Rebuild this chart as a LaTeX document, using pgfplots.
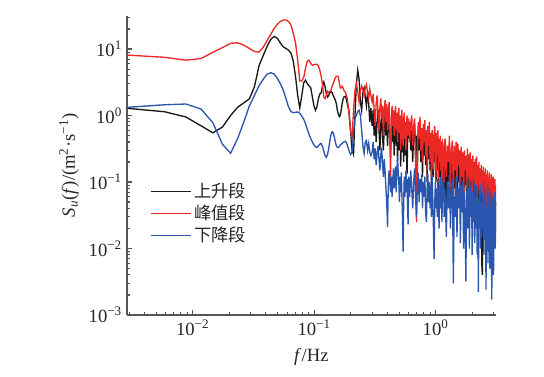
\documentclass[border=0pt]{standalone}
\usepackage{fontspec}
\setmainfont{Liberation Serif}
\newfontfamily\cjk{Noto Sans CJK SC}
\usepackage{pgfplots}
\usepackage{pgfplotstable}
\pgfplotsset{compat=1.18}
\definecolor{cred}{RGB}{236,40,36}
\definecolor{cblue}{RGB}{42,86,176}
\definecolor{cblack}{RGB}{25,25,25}
\definecolor{axgray}{RGB}{85,85,85}
\pgfplotstableread{
f a b c
0.00293 1.28 8.1 1.33
0.00586 1.14 7.5 1.45
0.00879 0.95 6.8 1.49
0.01172 0.70 7.2 1.25
0.01465 0.55 8.9 0.78
0.01758 0.67 10.5 0.37
0.02051 1.0 12.2 0.27
0.02344 1.33 12.4 0.45
0.02637 1.55 11.4 0.8
0.0293 1.78 10.2 1.4
0.03223 2.7 9.2 2.0
0.03516 5.6 9.0 2.8
0.03809 8.0 10.6 3.5
0.04102 11 13.5 4.2
0.04395 14 16.6 4.4
0.04688 15.5 20.5 4.2
0.04981 14.5 23.6 3.6
0.05274 12.3 26 3.0
0.05567 10.8 27.3 2.4
0.0586 10.2 27.3 1.8
0.06153 9.6 26 1.35
0.06446 8.7 23 1.15
0.06739 6.5 17.2 1.1
0.07032 3.8 12.3 1.12
0.07325 2.0 6.8 1.13
0.07618 1.3 3.3 1.08
0.07911 2.0 3.3 0.98
0.08204 3.1 3.7 0.88
0.08497 3.4 5.2 0.75
0.0879 3.0 6.6 0.62
0.09083 2.8 6.8 0.52
0.09376 2.6 6.1 0.45
0.09669 1.9 5.7 0.4
0.09962 1.4 5.8 0.36
0.10255 1.2 5.9 0.34
0.10548 1.35 5.9 0.33
0.10841 1.8 5.6 0.35
0.11134 2.1 4.8 0.37
0.11427 2.2 3.9 0.38
0.1172 2.8 2.9 0.34
0.12013 3.2 1.9 0.29
0.12306 2.7 1.8 0.25
0.12599 2.1 2.0 0.235
0.12892 1.9 2.3 0.26
0.13185 2.0 2.2 0.32
0.13478 2.2 2.3 0.42
0.13771 2.3 2.4 0.52
0.14064 2.2 2.75 0.57
0.14357 2.0 3.05 0.55
0.1465 1.85 3.4 0.48
0.14943 1.7 3.7 0.4
0.15236 1.5 3.9 0.35
0.15529 1.2 3.9 0.33
0.15822 1.05 3.8 0.33
0.16115 0.96 3.1 0.34
0.16408 1.0 2.6 0.36
0.16701 1.2 2.6 0.37
0.16994 1.5 2.75 0.38
0.17287 1.75 2.6 0.39
0.1758 1.9 2.4 0.40
0.18166 1.95 2.2 0.41
0.18752 1.5 1.8 0.36
0.19338 1.2 1.1 0.30
0.19924 0.6 0.6 0.26
0.2051 0.3 0.45 0.28
0.21096 0.26 1.2 0.55
0.21682 1.0 2.4 0.9
0.22268 3.0 3.0 1.0
0.22854 4.8 2.3 1.15
0.2344 3.5 1.6 1.2
0.24026 1.6 2.4 1.0
0.24612 1.2 2.8 0.6
0.25198 2.2 2.4 0.35
0.25784 2.6 2.0 0.27
0.2637 1.9 2.6 0.4
0.26956 1.4 2.9 0.42
0.27542 2.3 2.2 0.3
0.28128 1.5 1.8 0.38
0.28714 0.8 2.5 0.28
0.293 1.3 2.0 0.25
0.300 0.7 1.6 0.28
0.306 1.2 2.1 0.4
0.312 0.5 1.2 0.22
0.318 0.9 0.7 0.32
0.324 0.4 1.5 0.18
0.330 0.8 2.0 0.27
0.336 1.2 1.1 0.35
0.342 0.6 0.6 0.22
0.348 0.3 1.3 0.15
0.354 0.75 1.8 0.26
0.360 1.1 0.9 0.33
0.366 0.45 1.4 0.18
0.372 0.3 0.5 0.12
0.378 0.7 1.2 0.22
0.384 1.0 1.7 0.14
0.390 0.5 0.8 0.08
0.396 0.85 1.5 0.05
0.402 0.35 0.6 0.021
0.408 0.7 1.1 0.09
0.414 1.0 1.6 0.15
0.420 0.45 0.4 0.1
0.426 0.3 0.12 0.07
0.432 0.6 0.9 0.12
0.438 0.85 1.4 0.06
0.444 0.4 0.7 0.1
0.450 0.7 1.2 0.16
0.456 0.25 0.5 0.08
0.462 0.55 1.0 0.12
0.468 0.9 1.4 0.17
0.474 0.35 0.6 0.07
0.480 0.6 1.1 0.15
0.486 0.2 0.4 0.24
0.492 0.5 0.9 0.14
0.498 0.8 1.3 0.1
0.504 0.3 0.55 0.05
0.510 0.55 1.0 0.12
0.516 0.17 0.3 0.07
0.522 0.45 0.8 0.14
0.528 0.75 1.2 0.06
0.534 0.28 0.5 0.03
0.540 0.5 0.35 0.009
0.546 0.2 0.9 0.05
0.552 0.6 1.1 0.12
0.558 0.25 0.45 0.06
0.564 0.45 0.8 0.1
0.570 0.7 0.3 0.15
0.576 0.25 0.7 0.07
0.582 0.13 1.0 0.11
0.588 0.4 0.5 0.04
0.594 0.6 0.8 0.023
0.600 0.45 0.9 0.12
0.612 0.8 0.4 0.06
0.624 0.3 0.75 0.15
0.636 0.6 1.0 0.08
0.648 0.2 0.35 0.04
0.660 0.55 0.7 0.1
0.672 0.75 0.9 0.16
0.684 0.25 0.2 0.06
0.696 0.5 0.025 0.03
0.708 0.15 0.3 0.09
0.720 0.6 0.8 0.14
0.732 0.3 0.45 0.05
0.744 0.7 0.95 0.11
0.756 0.2 0.3 0.07
0.768 0.45 0.65 0.13
0.780 0.12 0.2 0.04
0.792 0.5 0.75 0.1
0.804 0.25 0.4 0.06
0.816 0.6 0.85 0.12
0.828 0.18 0.25 0.035
0.840 0.4 0.6 0.025
0.852 0.1 0.15 0.08
0.864 0.45 0.7 0.13
0.876 0.22 0.35 0.05
0.888 0.5 0.8 0.1
0.900 0.15 0.2 0.04
0.912 0.38 0.55 0.09
0.924 0.08 0.12 0.03
0.936 0.3 0.6 0.12
0.948 0.45 0.4 0.06
0.960 0.12 0.15 0.02
0.972 0.35 0.5 0.007
0.984 0.2 0.7 0.05
0.996 0.4 0.3 0.1
1.008 0.1 0.12 0.04
1.020 0.3 0.55 0.08
1.032 0.15 0.25 0.03
1.044 0.35 0.6 0.11
1.056 0.07 0.1 0.05
1.068 0.28 0.45 0.02
1.080 0.12 0.2 0.07
1.092 0.32 0.5 0.12
1.104 0.09 0.15 0.04
1.116 0.25 0.4 0.09
1.128 0.06 0.08 0.025
1.140 0.22 0.45 0.1
1.152 0.1 0.18 0.05
1.164 0.3 0.35 0.13
1.176 0.05 0.1 0.03
1.188 0.2 0.4 0.08
1.200 0.15 0.45 0.06
1.225 0.04 0.12 0.015
1.250 0.25 0.35 0.1
1.275 0.1 0.2 0.04
1.300 0.3 0.5 0.13
1.325 0.06 0.08 0.02
1.350 0.2 0.3 0.07
1.375 0.12 0.42 0.11
1.400 0.03 0.06 0.003
1.425 0.22 0.35 0.06
1.450 0.08 0.15 0.03
1.475 0.28 0.4 0.12
1.500 0.05 0.1 0.015
1.525 0.18 0.38 0.08
1.550 0.1 0.18 0.04
1.575 0.25 0.3 0.13
1.600 0.04 0.07 0.012
1.625 0.2 0.34 0.09
1.650 0.07 0.12 0.035
1.675 0.22 0.28 0.1
1.700 0.03 0.05 0.01
1.725 0.15 0.3 0.07
1.750 0.09 0.15 0.03
1.775 0.2 0.25 0.0032
1.800 0.05 0.08 0.05
1.825 0.17 0.32 0.12
1.850 0.08 0.12 0.02
1.875 0.14 0.26 0.08
1.900 0.03 0.06 0.01
1.925 0.16 0.28 0.09
1.950 0.06 0.1 0.03
1.975 0.12 0.22 0.11
2.000 0.02 0.05 0.008
2.025 0.14 0.25 0.07
2.050 0.07 0.11 0.025
2.075 0.1 0.2 0.1
2.100 0.03 0.06 0.012
2.125 0.12 0.22 0.06
2.150 0.05 0.09 0.02
2.175 0.11 0.24 0.09
2.200 0.02 0.05 0.008
2.225 0.09 0.18 0.05
2.250 0.04 0.08 0.0022
2.275 0.1 0.2 0.06
2.300 0.03 0.06 0.02
2.325 0.08 0.16 0.09
2.350 0.015 0.04 0.01
2.375 0.09 0.18 0.05
2.400 0.006 0.07 0.015
2.425 0.004 0.15 0.07
2.450 0.05 0.05 0.02
2.475 0.08 0.17 0.1
2.500 0.02 0.04 0.008
2.525 0.07 0.14 0.05
2.550 0.03 0.07 0.02
2.575 0.09 0.16 0.08
2.600 0.015 0.04 0.0024
2.625 0.07 0.13 0.04
2.650 0.03 0.06 0.015
2.675 0.08 0.15 0.09
2.700 0.01 0.03 0.006
2.725 0.06 0.12 0.05
2.750 0.025 0.05 0.012
2.775 0.07 0.14 0.08
2.800 0.012 0.03 0.005
2.825 0.05 0.11 0.04
2.850 0.02 0.05 0.01
2.875 0.06 0.13 0.07
2.900 0.008 0.025 0.0017
2.925 0.05 0.1 0.03
2.950 0.02 0.04 0.009
2.975 0.06 0.12 0.06
3.000 0.01 0.03 0.004
3.025 0.05 0.1 0.04
3.050 0.02 0.05 0.012
3.075 0.06 0.11 0.07
3.100 0.015 0.04 0.01
3.125 0.05 0.09 0.05
3.150 0.03 0.06 0.02
}\data
\begin{document}
\begin{tikzpicture}
\useasboundingbox (-95pt,-46.5pt) rectangle (313pt,236.25pt);
\begin{axis}[
  scale only axis, width=277.1pt, height=224.4pt,
  xmode=log, ymode=log,
  xmin=0.00286, xmax=3.15, ymin=0.001, ymax=31.6,
  axis x line*=bottom, axis y line*=left,
  axis line style={axgray, line width=1.3pt},
  tick align=inside,
  tick style={axgray, line width=0.8pt},
  major tick length=4pt, minor tick length=2.3pt,
  xtick={0.01,0.1,1},
  xticklabels={10\textsuperscript{−2},10\textsuperscript{−1},10\textsuperscript{0}},
  minor xtick={0.003,0.004,0.005,0.006,0.007,0.008,0.009,0.02,0.03,0.04,0.05,0.06,0.07,0.08,0.09,0.2,0.3,0.4,0.5,0.6,0.7,0.8,0.9,2,3},
  ytick={0.001,0.01,0.1,1,10},
  yticklabels={10\textsuperscript{−3},10\textsuperscript{−2},10\textsuperscript{−1},10\textsuperscript{0},10\textsuperscript{1}},
  minor ytick={0.002,0.003,0.004,0.005,0.006,0.007,0.008,0.009,0.02,0.03,0.04,0.05,0.06,0.07,0.08,0.09,0.2,0.3,0.4,0.5,0.6,0.7,0.8,0.9,2,3,4,5,6,7,8,9,20,30},
  ticklabel style={font=\fontsize{14}{16}\selectfont, text=black!85},
  xlabel={\textit{f}/Hz},
  ylabel={\textit{S}\textsubscript{\textit{u}}(\textit{f})/(m\textsuperscript{2}·s\textsuperscript{−1})},
  label style={font=\fontsize{14}{16}\selectfont, text=black!85},
  xlabel style={at={(axis description cs:0.5,-0.14)}, anchor=center},
  ylabel style={at={(axis description cs:-0.156,0.5)}, anchor=center},
  legend style={at={(axis description cs:0.06,0.455)}, anchor=north west, draw=none, fill=none, font=\cjk\fontsize{13}{15}\selectfont, text=black!85, row sep=0pt, inner sep=1pt},
  legend cell align=left,
  legend image code/.code={\draw[#1, line width=0.8pt] (0pt,0pt) -- (30pt,0pt);},
  no markers,
]
\addplot[cblack, line width=1pt] table[x=f,y=a]{\data};
\addlegendentry{上升段}
\addplot[cred, line width=1pt] table[x=f,y=b]{\data};
\addlegendentry{峰值段}
\addplot[cblue, line width=1pt] table[x=f,y=c]{\data};
\addlegendentry{下降段}
\end{axis}
\end{tikzpicture}
\end{document}
